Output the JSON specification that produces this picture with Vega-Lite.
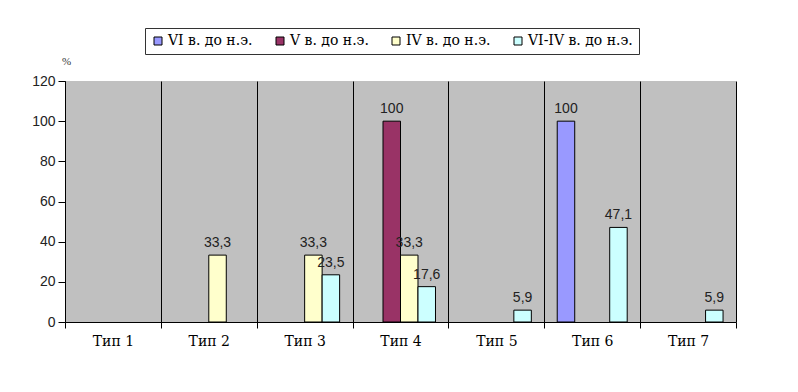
{
  "$schema": "https://vega.github.io/schema/vega-lite/v6.json",
  "width": 671,
  "height": 241,
  "autosize": {"type": "none"},
  "padding": {"left": 65, "top": 81, "right": 62, "bottom": 70},
  "background": "white",
  "config": {
    "locale": {"number": {"decimal": ",", "thousands": " ", "grouping": [3], "currency": ["", ""]}},
    "view": {"fill": "#C0C0C0", "stroke": null}
  },
  "data": {
    "values": [
      {"type": "Тип 2", "period": "IV в. до н.э.", "value": 33.3},
      {"type": "Тип 3", "period": "IV в. до н.э.", "value": 33.3},
      {"type": "Тип 3", "period": "VI-IV в. до н.э.", "value": 23.5},
      {"type": "Тип 4", "period": "V в. до н.э.", "value": 100},
      {"type": "Тип 4", "period": "IV в. до н.э.", "value": 33.3},
      {"type": "Тип 4", "period": "VI-IV в. до н.э.", "value": 17.6},
      {"type": "Тип 5", "period": "VI-IV в. до н.э.", "value": 5.9},
      {"type": "Тип 6", "period": "VI в. до н.э.", "value": 100},
      {"type": "Тип 6", "period": "VI-IV в. до н.э.", "value": 47.1},
      {"type": "Тип 7", "period": "VI-IV в. до н.э.", "value": 5.9}
    ]
  },
  "encoding": {
    "x": {
      "field": "type",
      "type": "nominal",
      "scale": {"domain": ["Тип 1", "Тип 2", "Тип 3", "Тип 4", "Тип 5", "Тип 6", "Тип 7"], "paddingInner": 0, "paddingOuter": 0},
      "axis": {
        "title": null,
        "labelAngle": 0,
        "tickBand": "extent",
        "grid": true,
        "gridColor": "black",
        "gridWidth": 1,
        "gridOpacity": 1,
        "domainColor": "black",
        "tickColor": "black",
        "tickSize": 6,
        "labelFont": "DejaVu Serif",
        "labelFontSize": 14,
        "labelColor": "black",
        "labelPadding": 6
      }
    },
    "xOffset": {
      "field": "period",
      "type": "nominal",
      "scale": {"domain": ["VI в. до н.э.", "V в. до н.э.", "IV в. до н.э.", "VI-IV в. до н.э."], "paddingInner": 0, "paddingOuter": 0.74}
    },
    "y": {
      "field": "value",
      "type": "quantitative",
      "scale": {"domain": [0, 120], "nice": false},
      "axis": {
        "title": "%",
        "titleAngle": 0,
        "titleX": 1,
        "titleY": -20,
        "titleAlign": "center",
        "titleBaseline": "middle",
        "titleFont": "Liberation Serif",
        "titleFontSize": 11,
        "titleFontWeight": "normal",
        "titleColor": "#333",
        "values": [0, 20, 40, 60, 80, 100, 120],
        "grid": false,
        "domainColor": "black",
        "tickColor": "black",
        "tickSize": 7,
        "labelFont": "Liberation Sans",
        "labelFontSize": 14,
        "labelColor": "#222",
        "labelPadding": 3
      }
    }
  },
  "layer": [
    {
      "mark": {"type": "bar", "stroke": "black", "strokeWidth": 1},
      "encoding": {
        "color": {
          "field": "period",
          "type": "nominal",
          "scale": {
            "domain": ["VI в. до н.э.", "V в. до н.э.", "IV в. до н.э.", "VI-IV в. до н.э."],
            "range": ["#9999FF", "#993366", "#FFFFCC", "#CCFFFF"]
          },
          "legend": {
            "title": null,
            "orient": "none",
            "direction": "horizontal",
            "legendX": 80,
            "legendY": -53,
            "columns": 4,
            "symbolType": "square",
            "symbolSize": 64,
            "symbolStrokeColor": "black",
            "symbolStrokeWidth": 1,
            "labelFont": "DejaVu Serif",
            "labelFontSize": 14,
            "labelColor": "black",
            "labelOffset": 3,
            "columnPadding": 20,
            "padding": 6,
            "strokeColor": "#333",
            "fillColor": "white"
          }
        }
      }
    },
    {
      "mark": {"type": "text", "baseline": "bottom", "dy": -5, "font": "Liberation Sans", "fontSize": 14, "fill": "#222"},
      "encoding": {
        "text": {"field": "value", "type": "quantitative", "format": ".1~f"}
      }
    }
  ]
}
